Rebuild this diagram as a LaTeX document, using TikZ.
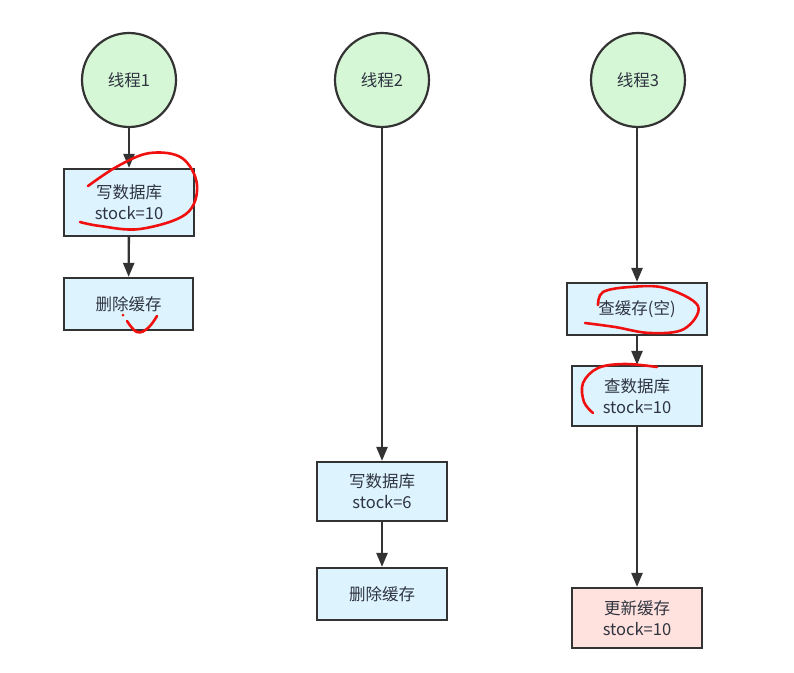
\documentclass[tikz,border=0pt]{standalone}
\usepackage{fontspec}
\setmainfont{Noto Sans CJK SC}
\usetikzlibrary{arrows.meta}
\definecolor{boxblue}{HTML}{DDF4FF}
\definecolor{circgreen}{HTML}{D6F7D6}
\definecolor{boxpink}{HTML}{FFE1DD}
\definecolor{edge}{HTML}{333333}
\definecolor{txt}{HTML}{2E3440}
\definecolor{penred}{HTML}{F01010}
\tikzset{
  thread/.style={circle, draw=edge, line width=2.2pt, fill=circgreen, minimum size=94pt, inner sep=0pt, text=txt, font=\fontsize{16.5}{21}\selectfont},
  stepbox/.style={rectangle, draw=edge, line width=2.2pt, fill=boxblue, inner sep=0pt, text=txt, font=\fontsize{16.5}{21}\selectfont, align=center},
  conn/.style={draw=edge, line width=2.4pt, -{Triangle[length=14pt,width=11pt]}},
  redmark/.style={draw=penred, line width=2.6pt, line cap=round, line join=round}
}
\begin{document}
\begin{tikzpicture}[x=1pt,y=-1pt]
\useasboundingbox (0,0) rectangle (794,672);
% threads
\node[thread] (t1) at (129,80) {线程1};
\node[thread] (t2) at (382,80) {线程2};
\node[thread] (t3) at (638,80) {线程3};
% thread 1
\node[stepbox, minimum width=130pt, minimum height=67pt] (a1) at (129,202.5) {写数据库\\stock=10};
\node[stepbox, minimum width=129pt, minimum height=52pt] (a2) at (128.5,304) {删除缓存};
% thread 2
\node[stepbox, minimum width=130pt, minimum height=59pt] (b1) at (382,491.5) {写数据库\\stock=6};
\node[stepbox, minimum width=130pt, minimum height=52pt] (b2) at (382,594) {删除缓存};
% thread 3
\node[stepbox, minimum width=140pt, minimum height=52pt] (c1) at (637,309) {查缓存(空)};
\node[stepbox, minimum width=130pt, minimum height=60pt] (c2) at (637,396) {查数据库\\stock=10};
\node[stepbox, fill=boxpink, minimum width=130pt, minimum height=60pt] (c3) at (637,618) {更新缓存\\stock=10};
% connectors
\draw[conn] (t1) -- (a1);
\draw[conn] (a1) -- (a2);
\draw[conn] (t2) -- (b1);
\draw[conn] (b1) -- (b2);
\draw[conn] (t3.south -| c1.north) -- (c1);
\draw[conn] (c1) -- (c2);
\draw[conn] (c2) -- (c3);
% red annotations
\draw[redmark] plot[smooth, tension=0.6] coordinates {(88,186) (118,166) (150,153) (182,158) (197,185) (186,214) (140,229) (100,226) (80,222)};
\fill[penred] (123,315) circle (1.5pt);
\draw[redmark] plot[smooth, tension=0.7] coordinates {(127,321) (137,332) (148,328) (157,316)};
\draw[redmark] plot[smooth, tension=0.6] coordinates {(598,305) (603,292) (630,287) (665,288) (698,306) (684,329) (650,333) (615,327) (585,323)};
\draw[redmark] plot[smooth, tension=0.6] coordinates {(657,367) (625,364) (598,368) (583,383) (584,402) (593,413)};
\end{tikzpicture}
\end{document}
